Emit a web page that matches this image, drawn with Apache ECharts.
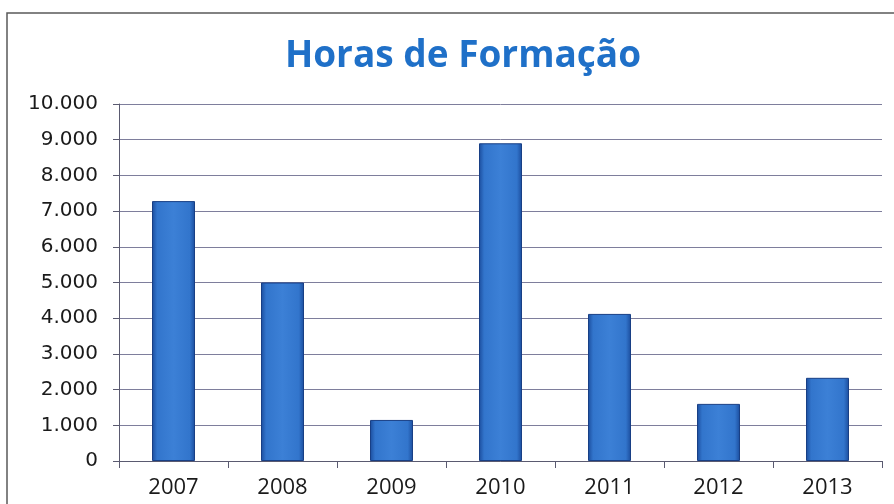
<!DOCTYPE html>
<html>
<head>
<meta charset="utf-8">
<script src="https://cdn.jsdelivr.net/npm/echarts@6/dist/echarts.min.js"></script>
<style>
html,body{margin:0;padding:0;background:#fff;}
#chart{width:894px;height:504px;}
</style>
</head>
<body>
<div id="chart"></div>
<script>
const titleText = 'Horas de Formação';
const categories = ['2007', '2008', '2009', '2010', '2011', '2012', '2013'];
const hours = [7280, 5000, 1150, 8900, 4120, 1600, 2330];
const yMin = 0, yMax = 10000, yStep = 1000;

function fmt(v) {
  return String(v).replace(/\B(?=(\d{3})+(?!\d))/g, '.');
}

const chart = echarts.init(document.getElementById('chart'), null, {renderer: 'canvas'});
chart.setOption({
  backgroundColor: '#ffffff',
  animation: false,
  title: {
    text: titleText,
    left: 458,
    textAlign: 'center',
    top: 33,
    textStyle: {
      fontFamily: 'Open Sans',
      fontWeight: 'bold',
      fontSize: 37,
      color: '#1f70c8'
    }
  },
  graphic: [{
    type: 'rect',
    shape: {x: 7, y: 13, width: 900, height: 500},
    style: {fill: 'none', stroke: '#5a5a5a', lineWidth: 1.5},
    silent: true
  }],
  grid: {left: 119, right: 12, top: 104, bottom: 43, containLabel: false},
  xAxis: {
    type: 'category',
    data: categories,
    axisLine: {show: true, lineStyle: {color: '#5a5a70', width: 1}},
    axisTick: {show: true, inside: false, length: 7, lineStyle: {color: '#5a5a70'}},
    axisLabel: {
      fontFamily: 'Open Sans',
      fontSize: 22,
      color: '#1a1a1a',
      margin: 16
    }
  },
  yAxis: {
    type: 'value',
    min: yMin,
    max: yMax,
    interval: yStep,
    axisLine: {show: true, lineStyle: {color: '#5a5a70', width: 1}},
    axisTick: {show: true, length: 6, lineStyle: {color: '#5a5a70'}},
    splitLine: {show: true, lineStyle: {color: '#7e7e9c', width: 1}},
    axisLabel: {
      fontFamily: 'DejaVu Sans',
      fontSize: 20,
      color: '#1a1a1a',
      margin: 21,
      formatter: fmt
    }
  },
  series: [{
    type: 'bar',
    data: hours,
    barWidth: 43,
    itemStyle: {
      color: new echarts.graphic.LinearGradient(0, 0, 1, 0, [
        {offset: 0, color: '#1b4c9c'},
        {offset: 0.12, color: '#3275cc'},
        {offset: 0.5, color: '#3c80d6'},
        {offset: 0.88, color: '#3275cc'},
        {offset: 1, color: '#1b4c9c'}
      ]),
      borderColor: '#183f85',
      borderWidth: 1
    }
  }]
});
</script>
</body>
</html>
